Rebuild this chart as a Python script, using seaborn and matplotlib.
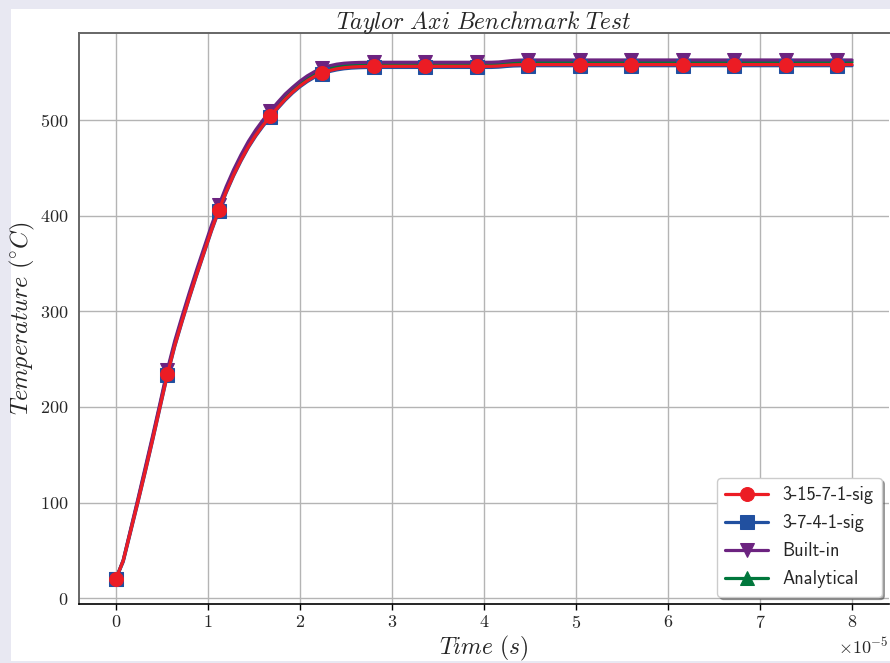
import numpy as np
import matplotlib
matplotlib.use("Agg")
import matplotlib.pyplot as plt
from matplotlib.patches import Rectangle
import seaborn as sns

# Time samples (s) and temperature histories (°C)
time_s = np.linspace(0.0, 8e-5, 101)

temp_3_15_7_1_sig = [
    20, 39, 70, 101, 133, 166, 200, 234, 264, 290, 315, 339, 362, 385, 406,
    425, 442.5, 458, 472, 484, 494.5, 504, 513, 521.5, 529, 535.5, 541, 545.5,
    549, 551.5, 553.3, 554.5, 555.2, 555.6, 555.8, 556.0,
    556.0, 556.0, 556.0, 556.0, 556.0, 556.0, 556.0, 556.0,
    556.0, 556.0, 556.0, 556.0, 556.0, 556.0, 556.0, 556.0,
    556.3, 557.0, 557.5, 557.7,
    557.8, 557.8, 557.8, 557.8, 557.8, 557.8, 557.8, 557.8, 557.8,
    557.8, 557.8, 557.8, 557.8, 557.8, 557.8, 557.8, 557.8, 557.8,
    557.8, 557.8, 557.8, 557.8, 557.8, 557.8, 557.8, 557.8, 557.8,
    557.8, 557.8, 557.8, 557.8, 557.8, 557.8, 557.8, 557.8, 557.8,
    557.8, 557.8, 557.8, 557.8, 557.8, 557.8, 557.8, 557.8, 557.8,
]

temp_3_7_4_1_sig = [
    20, 38, 69, 100, 132, 165, 199, 233, 263, 289, 314, 338, 361, 384, 405,
    424, 441.5, 457, 471, 483, 493.5, 503, 512, 520.5, 528, 534.5, 540, 544.5,
    548, 550.5, 552.2, 553.4, 554.1, 554.5, 554.7, 554.8,
    554.8, 554.8, 554.8, 554.8, 554.8, 554.8, 554.8, 554.8,
    554.8, 554.8, 554.8, 554.8, 554.8, 554.8, 554.8, 554.8,
    555.1, 555.8, 556.3, 556.5,
    556.6, 556.6, 556.6, 556.6, 556.6, 556.6, 556.6, 556.6, 556.6,
    556.6, 556.6, 556.6, 556.6, 556.6, 556.6, 556.6, 556.6, 556.6,
    556.6, 556.6, 556.6, 556.6, 556.6, 556.6, 556.6, 556.6, 556.6,
    556.6, 556.6, 556.6, 556.6, 556.6, 556.6, 556.6, 556.6, 556.6,
    556.6, 556.6, 556.6, 556.6, 556.6, 556.6, 556.6, 556.6, 556.6,
]

temp_built_in = [
    20, 40, 72, 104, 137, 170, 204, 239, 269, 295, 320, 344, 367, 390, 411,
    430.5, 448, 463.5, 477.5, 489.5, 500, 509.5, 518.5, 527, 534, 540.5, 546,
    550.5, 554, 556.5, 558.2, 559.2, 559.7, 560.0, 560.1, 560.2,
    560.2, 560.2, 560.2, 560.2, 560.2, 560.2, 560.2, 560.2,
    560.2, 560.2, 560.2, 560.2, 560.2, 560.2, 560.2, 560.2,
    560.5, 561.3, 562.1, 562.5,
    562.6, 562.6, 562.6, 562.6, 562.6, 562.6, 562.6, 562.6, 562.6,
    562.6, 562.6, 562.6, 562.6, 562.6, 562.6, 562.6, 562.6, 562.6,
    562.6, 562.6, 562.6, 562.6, 562.6, 562.6, 562.6, 562.6, 562.6,
    562.6, 562.6, 562.6, 562.6, 562.6, 562.6, 562.6, 562.6, 562.6,
    562.6, 562.6, 562.6, 562.6, 562.6, 562.6, 562.6, 562.6, 562.6,
]

temp_analytical = [
    20, 39.5, 71, 102.5, 135, 168, 202, 236.5, 266.5, 292.5, 317.5, 341.5,
    364.5, 387.5, 408.5, 428, 445.5, 461, 475, 487, 497.5, 507, 516, 524.5,
    531.5, 538, 543.5, 548, 551.5, 554, 555.7, 556.9, 557.6, 558.0, 558.2, 558.3,
    558.3, 558.3, 558.3, 558.3, 558.3, 558.3, 558.3, 558.3,
    558.3, 558.3, 558.3, 558.3, 558.3, 558.3, 558.3, 558.3,
    558.6, 559.3, 559.9, 560.2,
    560.3, 560.3, 560.3, 560.3, 560.3, 560.3, 560.3, 560.3, 560.3,
    560.3, 560.3, 560.3, 560.3, 560.3, 560.3, 560.3, 560.3, 560.3,
    560.3, 560.3, 560.3, 560.3, 560.3, 560.3, 560.3, 560.3, 560.3,
    560.3, 560.3, 560.3, 560.3, 560.3, 560.3, 560.3, 560.3, 560.3,
    560.3, 560.3, 560.3, 560.3, 560.3, 560.3, 560.3, 560.3, 560.3,
]

labels = ["3-15-7-1-sig", "3-7-4-1-sig", "Built-in", "Analytical"]
series = [temp_3_15_7_1_sig, temp_3_7_4_1_sig, temp_built_in, temp_analytical]
colors = ["#ec1c24", "#2150a0", "#6c2380", "#00773c"]
markers = ["o", "s", "v", "^"]

sns.set_theme(style="white")
plt.rcParams.update({
    "font.family": "serif",
    "font.serif": ["cmr10", "DejaVu Serif"],
    "mathtext.fontset": "cm",
    "axes.formatter.use_mathtext": True,
    "axes.unicode_minus": False,
})

fig = plt.figure(figsize=(8.9, 6.63), dpi=100)
fig.patch.set_facecolor("#e8e8f2")
fig.patches.append(Rectangle((11 / 890, 2 / 663), 879 / 890, 652 / 663,
                             transform=fig.transFigure, facecolor="white",
                             edgecolor="none", zorder=-10))

ax = fig.add_axes([0.0888, 0.0890, 0.9099, 0.8608])
ax.set_facecolor("white")

# draw the last series first so the first legend entry ends up on top
handles = {}
for lab, vals, col, mk in reversed(list(zip(labels, series, colors, markers))):
    sns.lineplot(x=time_s, y=vals, ax=ax, color=col, marker=mk, markevery=7,
                 markersize=10, linewidth=2.3, markeredgecolor=col,
                 markeredgewidth=0.75, label=lab, legend=False)
    handles[lab] = ax.lines[-1]

ax.set_xlim(-0.4e-5, 8.4e-5)
ax.set_ylim(-6, 590.5)
ax.set_yticks([0, 100, 200, 300, 400, 500])
ax.set_xticks(np.arange(0, 9) * 1e-5)

ax.grid(True, color="#b4b4b4", linewidth=1.0)
ax.set_axisbelow(True)

for side in ("left", "top"):
    ax.spines[side].set_color("#666666")
    ax.spines[side].set_linewidth(1.4)
ax.spines["bottom"].set_color("black")
ax.spines["bottom"].set_linewidth(1.2)
ax.spines["right"].set_visible(False)

ax.tick_params(axis="both", which="major", labelsize=13, length=4, direction="out")
ax.tick_params(axis="y", color="#666666", width=1.2)
ax.tick_params(axis="x", color="black", width=1.0, bottom=True)
ax.xaxis.get_offset_text().set_fontsize(13)

ax.set_title(r"$Taylor\ Axi\ Benchmark\ Test$", fontsize=17, pad=3)
ax.set_xlabel(r"$Time\ (s)$", fontsize=17, labelpad=2)
ax.set_ylabel(r"$Temperature\ (^{\circ}C)$", fontsize=17.5, labelpad=2)

leg = ax.legend([handles[l] for l in labels], labels, loc="lower right",
                frameon=True, fancybox=True, shadow=True, framealpha=1.0,
                edgecolor="#cccccc", handlelength=2.3, borderaxespad=0.4,
                labelspacing=0.55, borderpad=0.45,
                prop={"family": "cmss10", "size": 13.2})
leg.get_frame().set_linewidth(1.0)

fig.savefig("out.png", dpi=100, facecolor=fig.get_facecolor())
